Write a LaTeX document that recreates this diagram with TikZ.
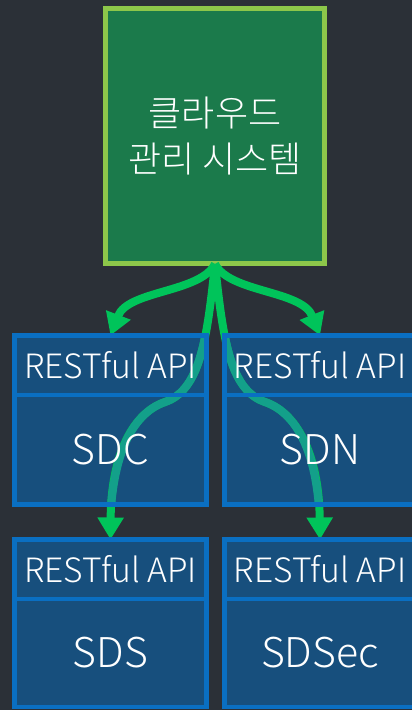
\documentclass[tikz,border=0pt]{standalone}
\usepackage{fontspec}
\setmainfont{Noto Sans CJK KR Light}
\usetikzlibrary{arrows.meta}
\definecolor{bgc}{HTML}{2B3037}
\definecolor{gfill}{HTML}{1B7A4B}
\definecolor{gbord}{HTML}{8DC74A}
\definecolor{garrow}{HTML}{00C45A}
\definecolor{bfill}{HTML}{174F7D}
\definecolor{bbord}{HTML}{0A6FC2}
\definecolor{tealc}{HTML}{13A08A}
\tikzset{
  boxfill/.style={fill=bfill, inner sep=0pt, outer sep=0pt},
  boxline/.style={draw=bbord, line width=4.5pt},
  hdrtext/.style={text=white, font=\fontsize{33.5}{38}\selectfont},
  bodytext/.style={text=white, font=\fontsize{41}{48}\selectfont},
  link/.style={draw=garrow, line width=8pt},
  tip/.style={-{Triangle[length=22pt,width=25pt]}},
}
\begin{document}
\begin{tikzpicture}[x=1pt,y=-1pt]
\useasboundingbox (0,0) rectangle (412,710);
\clip (0,0) rectangle (412,710);
\fill[bgc] (0,0) rectangle (412,710);
% box fills
\node[boxfill, minimum width=192pt, minimum height=59.5pt] (hA) at (110.5,365.25) {};
\node[boxfill, minimum width=192pt, minimum height=109.5pt] (bA) at (110.5,449.75) {};
\node[boxfill, minimum width=191pt, minimum height=59.5pt] (hB) at (320,365.25) {};
\node[boxfill, minimum width=191pt, minimum height=109.5pt] (bB) at (320,449.75) {};
\node[boxfill, minimum width=192pt, minimum height=59.5pt] (hC) at (110.5,569.25) {};
\node[boxfill, minimum width=192pt, minimum height=108pt] (bC) at (110.5,653) {};
\node[boxfill, minimum width=191pt, minimum height=59.5pt] (hD) at (320,569.25) {};
\node[boxfill, minimum width=191pt, minimum height=108pt] (bD) at (320,653) {};
% cloud box
\node[draw=gbord, fill=gfill, line width=5pt, minimum width=219pt, minimum height=255pt,
      text=white, align=center, font=\fontsize{36}{46}\selectfont] (cms) at (215,136) {클라우드\\관리 시스템};
\coordinate (apex) at (215,264);
% connectors
\draw[link, tip] (apex) .. controls (200,293) and (128,290) .. (hA.north);
\draw[link, tip] (apex) .. controls (230,293) and (302,290) .. (hB.north);
\draw[link, tip] (apex) .. controls (207,340) and (200,390) .. (165,402) .. controls (130,414) and (111,460) .. (hC.north);
\draw[link, tip] (apex) .. controls (223,340) and (230,390) .. (265,402) .. controls (300,414) and (319,460) .. (hD.north);
\begin{scope}
\clip (hA.north west) rectangle (bA.south east)
      (hB.north west) rectangle (bB.south east)
      (hC.north west) rectangle (bC.south east)
      (hD.north west) rectangle (bD.south east);
\draw[line width=8pt, tealc] (apex) .. controls (207,340) and (200,390) .. (165,402) .. controls (130,414) and (111,460) .. (110,530);
\draw[line width=8pt, tealc] (apex) .. controls (223,340) and (230,390) .. (265,402) .. controls (300,414) and (319,460) .. (320,530);
\end{scope}
% borders
\draw[boxline] (hA.north west) rectangle (hA.south east);
\draw[boxline] (bA.north west) rectangle (bA.south east);
\draw[boxline] (hB.north west) rectangle (hB.south east);
\draw[boxline] (bB.north west) rectangle (bB.south east);
\draw[boxline] (hC.north west) rectangle (hC.south east);
\draw[boxline] (bC.north west) rectangle (bC.south east);
\draw[boxline] (hD.north west) rectangle (hD.south east);
\draw[boxline] (bD.north west) rectangle (bD.south east);
% labels
\node[hdrtext] (tA) at (hA) {RESTful API};
\node[hdrtext] (tB) at (hB) {RESTful API};
\node[hdrtext] (tC) at (hC) {RESTful API};
\node[hdrtext] (tD) at (hD) {RESTful API};
\node[bodytext] (lA) at (bA) {SDC};
\node[bodytext] (lB) at (bB) {SDN};
\node[bodytext] (lC) at (bC) {SDS};
\node[bodytext] (lD) at (bD) {SDSec};
\end{tikzpicture}
\end{document}
